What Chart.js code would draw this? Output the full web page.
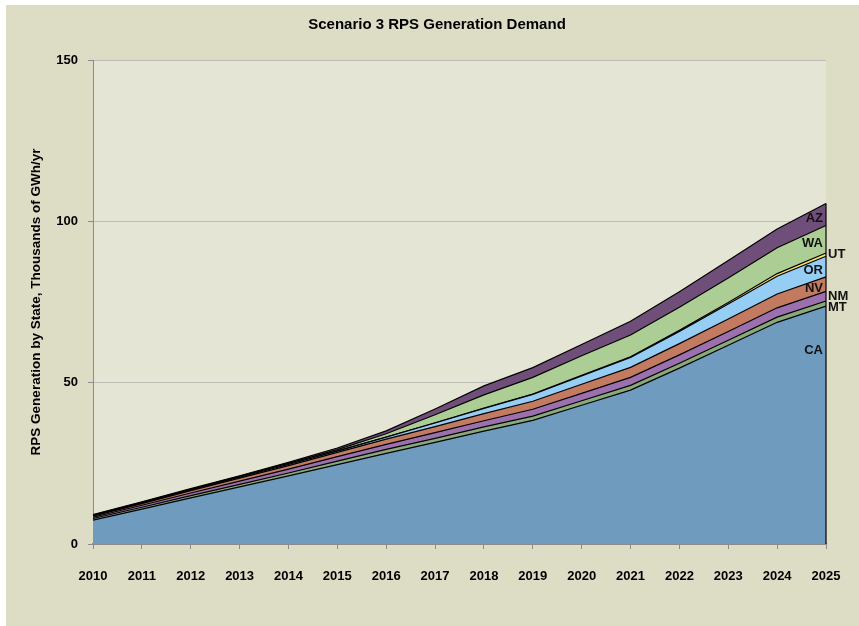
<!DOCTYPE html>
<html>
<head>
<meta charset="utf-8">
<script src="https://cdn.jsdelivr.net/npm/chart.js@4.4.1/dist/chart.umd.min.js"></script>
<style>
  html, body { margin: 0; padding: 0; background: #ffffff; }
</style>
</head>
<body>
<canvas id="rpsChart" width="859" height="626"></canvas>
<script>
const years = ["2010", "2011", "2012", "2013", "2014", "2015", "2016", "2017", "2018", "2019", "2020", "2021", "2022", "2023", "2024", "2025"];
const yTicks = [0, 50, 100, 150];

// thousands of GWh/yr, stacked bottom to top
const caValues = [7.4, 10.8, 14.3, 17.7, 21.1, 24.6, 28.1, 31.5, 35.0, 38.3, 43.0, 47.7, 54.5, 61.6, 68.7, 73.7];
const mtValues = [0.5, 0.6, 0.7, 0.8, 0.9, 1.1, 1.2, 1.25, 1.3, 1.35, 1.4, 1.45, 1.5, 1.55, 1.6, 1.6];
const nmValues = [0.4, 0.6, 0.8, 1.0, 1.2, 1.4, 1.6, 1.75, 1.9, 2.1, 2.3, 2.5, 2.6, 2.7, 2.9, 3.0];
const nvValues = [0.3, 0.5, 0.7, 0.9, 1.1, 1.3, 1.6, 1.9, 2.2, 2.5, 2.8, 3.1, 3.5, 3.9, 4.3, 4.5];
const orValues = [0.1, 0.15, 0.2, 0.3, 0.35, 0.4, 0.6, 1.1, 1.6, 2.1, 2.6, 3.1, 3.8, 4.6, 5.5, 6.4];
const utValues = [0.05, 0.05, 0.05, 0.05, 0.05, 0.05, 0.05, 0.05, 0.1, 0.1, 0.15, 0.2, 0.3, 0.5, 0.8, 1.0];
const waValues = [0.2, 0.2, 0.2, 0.2, 0.3, 0.4, 1.0, 2.5, 4.1, 5.2, 6.1, 6.7, 7.2, 7.6, 8.0, 8.5];
const azValues = [0.2, 0.2, 0.2, 0.2, 0.3, 0.5, 0.9, 1.8, 2.8, 3.0, 3.5, 4.3, 4.8, 5.4, 5.8, 6.8];

const stateNames = ["CA", "MT", "NM", "NV", "OR", "UT", "WA", "AZ"];
const stateValues = [caValues, mtValues, nmValues, nvValues, orValues, utValues, waValues, azValues];
const stateColors = ["#6F9BBF", "#8AA97A", "#9C70AE", "#C27A61", "#96CDF5", "#F8DE6E", "#ACCE95", "#6F4E79"];

const fontFamily = "'Liberation Sans', Arial, sans-serif";

// where the state names sit next to the 2025 end of the stack
const labelPlace = {
  CA: { out: false, at: 60, dy: 0 },
  MT: { out: true, dy: 4 },
  NM: { out: true, dy: 0 },
  NV: { out: false, dy: 4 },
  OR: { out: false, dy: 4 },
  UT: { out: true, dy: 0 },
  WA: { out: false, dy: 4 },
  AZ: { out: false, dy: 4 }
};

const backdrop = {
  id: 'backdrop',
  beforeDraw(chart) {
    const { ctx, chartArea: a } = chart;
    ctx.save();
    ctx.fillStyle = '#ffffff';
    ctx.fillRect(0, 0, chart.width, chart.height);
    ctx.fillStyle = '#DDDCC5';
    ctx.fillRect(6, 5, chart.width - 6, chart.height - 5);
    ctx.fillStyle = '#E5E5D6';
    ctx.fillRect(a.left, a.top, a.right - a.left, a.bottom - a.top);
    ctx.restore();
  },
  afterDraw(chart) {
    const ctx = chart.ctx;
    ctx.save();
    ctx.fillStyle = '#000000';
    ctx.font = 'bold 15px ' + fontFamily;
    ctx.textAlign = 'center';
    ctx.textBaseline = 'middle';
    ctx.fillText('Scenario 3 RPS Generation Demand', 437, 25);
    ctx.restore();
  }
};

const endLabels = {
  id: 'endLabels',
  afterDatasetsDraw(chart) {
    const { ctx, scales: { x, y } } = chart;
    const last = years.length - 1;
    const xEnd = x.getPixelForValue(last);
    let base = 0;
    ctx.save();
    ctx.font = 'bold 13px ' + fontFamily;
    ctx.fillStyle = '#111111';
    ctx.textBaseline = 'middle';
    stateNames.forEach((name, i) => {
      const lo = base;
      const hi = base + stateValues[i][last];
      base = hi;
      const p = labelPlace[name];
      const yPix = y.getPixelForValue(p.at !== undefined ? p.at : (lo + hi) / 2) + p.dy;
      ctx.textAlign = p.out ? 'left' : 'right';
      ctx.fillText(name, p.out ? xEnd + 2 : xEnd - 3, yPix);
    });
    // closing edge of the area at 2025
    ctx.strokeStyle = '#000000';
    ctx.lineWidth = 1.2;
    ctx.beginPath();
    ctx.moveTo(xEnd, y.getPixelForValue(0));
    ctx.lineTo(xEnd, y.getPixelForValue(base));
    ctx.stroke();
    ctx.restore();
  }
};

const datasets = stateNames.map((name, i) => ({
  label: name,
  data: stateValues[i],
  backgroundColor: stateColors[i],
  borderColor: '#000000',
  borderWidth: 1.2,
  pointRadius: 0,
  tension: 0,
  fill: i === 0 ? 'origin' : '-1'
}));

const ctx = document.getElementById("rpsChart");
const rpsChart = new Chart(ctx, {
  type: 'line',
  data: { labels: years, datasets: datasets },
  options: {
    responsive: false,
    animation: false,
    events: [],
    layout: { padding: { left: 0, top: 60, right: 33, bottom: 0 } },
    plugins: {
      legend: { display: false },
      tooltip: { enabled: false },
      title: { display: false }
    },
    scales: {
      x: {
        offset: false,
        ticks: {
          autoSkip: false,
          maxRotation: 0,
          color: '#000000',
          padding: 20,
          font: { family: fontFamily, size: 13, weight: 'bold' }
        },
        grid: { drawOnChartArea: false, tickLength: 5, color: '#8C8C8C' },
        border: { color: '#8C8C8C', width: 2 },
        afterFit: (s) => { s.height = 82; s.paddingRight = 0; s.paddingLeft = 0; }
      },
      y: {
        stacked: true,
        min: yTicks[0],
        max: yTicks[yTicks.length - 1],
        afterBuildTicks: (s) => { s.ticks = yTicks.map(v => ({ value: v })); },
        ticks: {
          color: '#000000',
          padding: 10,
          font: { family: fontFamily, size: 13, weight: 'bold' }
        },
        grid: {
          color: (c) => c.tick && c.tick.value === 0 ? 'rgba(0,0,0,0)' : '#BDBDB5',
          tickColor: '#8C8C8C',
          tickLength: 5,
          lineWidth: 1
        },
        border: { color: '#8C8C8C', width: 1 },
        title: {
          display: true,
          text: 'RPS Generation by State, Thousands of GWh/yr',
          color: '#000000',
          font: { family: fontFamily, size: 13.5, weight: 'bold' },
          padding: { top: 28, bottom: 0 }
        },
        afterFit: (s) => { s.width = 93; }
      }
    }
  },
  plugins: [backdrop, endLabels]
});
</script>
</body>
</html>
